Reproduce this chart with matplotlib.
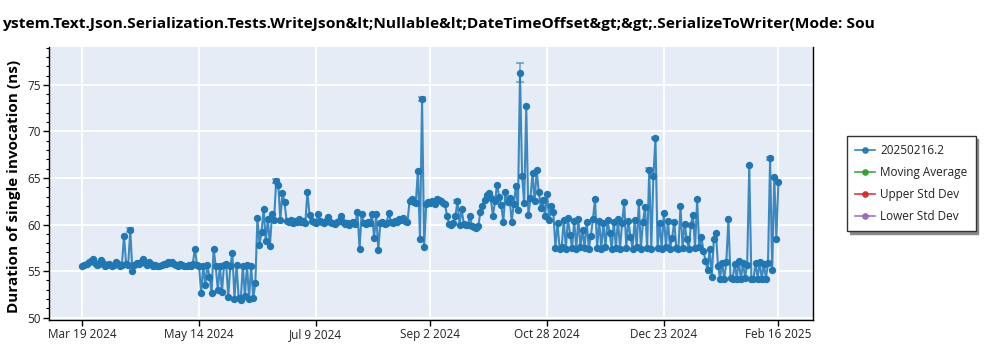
import matplotlib
matplotlib.use("Agg")
import matplotlib.pyplot as plt
from matplotlib.ticker import MultipleLocator, FuncFormatter, FixedLocator
from matplotlib.lines import Line2D
import matplotlib.dates as mdates
import pandas as pd

plt.rcParams["font.family"] = ["Open Sans", "DejaVu Sans"]

# ---------------------------------------------------------------- data
title_text = ("ystem.Text.Json.Serialization.Tests.WriteJson&lt;Nullable&lt;"
              "DateTimeOffset&gt;&gt;.SerializeToWriter(Mode: Sou")
y_label = "Duration of single invocation (ns)"

series_names = ["20250216.2", "Moving Average", "Upper Std Dev", "Lower Std Dev"]
series_colors = ["#1f77b4", "#2ca02c", "#d62728", "#9467bd"]

first_run = "2024-03-19"

# one measurement per day, starting at first_run
duration_ns = [
    55.5, 55.7, 55.8, 56.0, 56.1, 56.3, 55.9, 55.7, 55.8, 56.2,   # Mar 19
    55.9, 55.6, 55.7, 55.8, 55.6, 55.7, 56.0, 55.8, 55.6, 55.7,   # Mar 29
    58.8, 55.8, 55.7, 59.4, 55.0, 55.7, 55.9, 55.8, 56.0, 56.3,   # Apr 8
    55.9, 55.7, 56.0, 55.8, 55.6, 55.7, 55.6, 55.6, 55.7, 55.8,   # Apr 18
    55.8, 56.0, 55.9, 56.0, 55.8, 55.7, 55.6, 55.8, 55.7, 55.6,   # Apr 28
    55.5, 55.7, 55.6, 55.8, 57.4, 55.7, 55.6, 52.6, 55.6, 53.5,   # May 8
    55.7, 54.4, 52.7, 57.4, 55.5, 53.0, 55.6, 52.8, 55.7, 55.8,   # May 18
    52.2, 55.6, 56.9, 52.0, 55.7, 52.1, 51.9, 55.6, 52.3, 55.7,   # May 28
    52.0, 55.6, 52.1, 53.7, 60.7, 57.8, 59.2, 61.7, 58.2, 60.6,   # Jun 7
    57.7, 61.1, 60.5, 64.7, 64.3, 60.5, 63.4, 62.4, 60.4, 60.3,   # Jun 17
    60.5, 60.2, 60.4, 60.3, 60.6, 60.3, 60.4, 60.2, 63.5, 61.0,   # Jun 27
    60.4, 60.3, 60.2, 61.1, 60.4, 60.3, 60.2, 60.4, 60.8, 60.3,   # Jul 7
    60.2, 60.1, 60.3, 60.4, 60.9, 60.3, 60.1, 60.2, 60.0, 60.2,   # Jul 17
    60.3, 60.1, 61.4, 57.4, 61.1, 60.2, 60.1, 60.3, 60.2, 61.1,   # Jul 27
    58.6, 61.1, 57.3, 60.2, 60.3, 60.1, 60.2, 61.2, 60.3, 60.2,   # Aug 6
    60.4, 60.3, 60.6, 60.5, 60.7, 60.4, 60.3, 62.5, 62.7, 62.4,   # Aug 16
    62.3, 65.8, 58.5, 73.5, 57.6, 62.2, 62.4, 62.3, 62.5, 62.2,   # Aug 26
    62.7, 62.6, 62.5, 62.3, 62.2, 60.9, 60.1, 60.0, 60.2, 60.9,   # Sep 5
    62.5, 60.0, 61.7, 60.1, 59.9, 60.0, 60.9, 59.8, 59.7, 59.6,   # Sep 15
    59.8, 61.4, 62.0, 62.6, 63.2, 63.4, 62.8, 60.9, 62.5, 64.3,   # Sep 25
    63.0, 62.1, 60.3, 63.5, 62.4, 62.9, 60.3, 62.2, 64.1, 61.6,   # Oct 5
    76.3, 65.2, 62.3, 72.7, 61.0, 62.8, 65.5, 62.5, 65.9, 63.5,   # Oct 15
    61.8, 62.6, 60.9, 63.3, 60.5, 62.0, 61.3, 57.5, 60.2, 57.4,   # Oct 25
    57.6, 60.5, 57.4, 60.7, 58.9, 57.5, 60.4, 57.4, 60.6, 57.6,   # Nov 4
    59.4, 57.5, 60.3, 57.4, 58.8, 60.6, 62.7, 57.5, 60.4, 57.4,   # Nov 14
    60.2, 57.6, 60.5, 59.1, 57.4, 60.3, 57.5, 60.6, 57.4, 60.2,   # Nov 24
    62.4, 57.5, 60.4, 58.7, 57.4, 60.5, 57.6, 62.4, 57.4, 60.3,   # Dec 4
    61.9, 57.5, 65.9, 57.4, 65.2, 69.3, 57.5, 60.2, 57.4, 61.2,   # Dec 14
    57.6, 60.4, 57.4, 58.6, 60.3, 57.5, 57.4, 62.0, 57.5, 60.1,   # Dec 24
    58.4, 57.4, 60.0, 61.0, 57.5, 62.7, 57.6, 58.7, 57.2, 56.1,   # Jan 3
    55.1, 57.4, 54.4, 58.4, 59.1, 55.6, 54.2, 55.9, 54.1, 56.0,   # Jan 13
    60.6, 54.3, 54.1, 55.8, 54.2, 56.1, 54.1, 55.9, 54.3, 55.7,   # Jan 23
    66.4, 54.2, 54.1, 55.9, 54.2, 56.0, 54.1, 55.8, 54.2, 55.9,   # Feb 2
    67.1, 55.1, 65.1, 58.5, 64.6,                                 # Feb 12
]

# runs whose spread is large enough to show an error bar
error_dates = ["2024-04-11", "2024-06-20", "2024-08-29", "2024-09-15",
               "2024-10-15", "2024-10-16", "2024-12-16", "2024-12-19",
               "2025-02-12"]
error_ns = [0.2, 0.2, 0.2, 0.15, 1.0, 0.15, 0.15, 0.15, 0.15]

tick_dates = ["2024-03-19", "2024-05-14", "2024-07-09", "2024-09-02",
              "2024-10-28", "2024-12-23", "2025-02-16"]

# ---------------------------------------------------------------- figure
run_dates = pd.date_range(first_run, periods=len(duration_ns), freq="D")
series = pd.Series(duration_ns, index=run_dates)
err_idx = pd.to_datetime(error_dates)

fig = plt.figure(figsize=(10, 3.5), dpi=100)
ax = fig.add_axes([0.049, 0.0857, 0.764, 0.7809])
ax.set_facecolor("#E5ECF6")

main = series_colors[0]
ax.plot(series.index, series.values, "-", color=main, lw=1.5, alpha=0.85, zorder=3)
ax.plot(series.index, series.values, "o", color=main, ms=5.3, mew=0, zorder=4)
ax.errorbar(err_idx, series.loc[err_idx].values, yerr=error_ns, fmt="none",
            ecolor=main, elinewidth=1.2, capsize=3, capthick=1.2, alpha=0.6,
            zorder=3)

ax.set_xlim(pd.Timestamp("2024-03-03"), pd.Timestamp("2025-03-04 14:00"))
ax.set_ylim(49.75, 79.1)

# axes styling
ax.grid(True, color="white", lw=1.3, zorder=0)
ax.set_axisbelow(True)
for side in ("left", "bottom", "right"):
    ax.spines[side].set_color("black")
    ax.spines[side].set_linewidth(1.0)
ax.spines["top"].set_visible(False)

ax.yaxis.set_major_locator(MultipleLocator(5))
ax.yaxis.set_minor_locator(MultipleLocator(1))
ax.xaxis.set_major_locator(FixedLocator(mdates.date2num(pd.to_datetime(tick_dates))))
ax.xaxis.set_major_formatter(FuncFormatter(
    lambda v, _: (lambda d: f"{d:%b} {d.day} {d.year}")(mdates.num2date(v))))

ax.tick_params(axis="both", which="major", direction="out", length=4,
               width=1, color="black", labelsize=8.5, labelcolor="#222222",
               pad=2)
ax.tick_params(axis="y", which="minor", direction="out", length=2.5,
               width=0.8, color="black")

fig.text(0.002, 1 - 27.7 / 350, title_text, ha="left", va="baseline",
         fontsize=11.15, fontweight="bold", color="black")
fig.text(0.014, 1 - 186 / 350, y_label, rotation=90, ha="center",
         va="center", fontsize=11, fontweight="bold", color="black")

# legend
handles = [Line2D([], [], color=c, lw=1.2, marker="o", ms=3.8, alpha=0.9)
           for c in series_colors]
leg = fig.legend(handles, series_names, loc="upper left",
                 bbox_to_anchor=(0.847, 1 - 136 / 350),
                 bbox_transform=fig.transFigure, borderaxespad=0,
                 fontsize=8.5, frameon=True, fancybox=False,
                 shadow={"color": "#8a8a8a", "alpha": 1.0},
                 handlelength=1.7, handletextpad=0.4, labelspacing=0.75,
                 borderpad=0.7)
leg.get_frame().set_edgecolor("#333333")
leg.get_frame().set_linewidth(1.0)
for t in leg.get_texts():
    t.set_color("#222222")

fig.savefig("out.png", dpi=100)
